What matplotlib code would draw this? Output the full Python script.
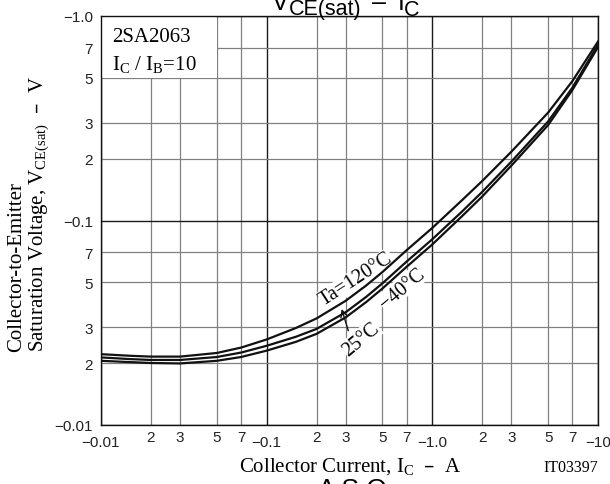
import matplotlib
matplotlib.use('Agg')
import matplotlib.pyplot as plt
from matplotlib.ticker import FixedLocator, FixedFormatter
from matplotlib.patches import Rectangle

plt.rcParams['mathtext.default'] = 'regular'

SERIF = 'Liberation Serif'
SANS = 'Liberation Sans'
W, H = 610, 485

# collector current (A, magnitude) and VCE(sat) (V, magnitude)
IC = [0.01, 0.015, 0.02, 0.03, 0.05, 0.07, 0.1, 0.15, 0.2, 0.3, 0.4, 0.5, 0.7,
      1.0, 1.5, 2.0, 3.0, 5.0, 7.0, 10.0]
VCE_120 = [0.0222, 0.0218, 0.0216, 0.0216, 0.0225, 0.0239, 0.0262, 0.0298, 0.0332,
           0.0405, 0.0482, 0.0560, 0.0716, 0.092, 0.125, 0.156, 0.217, 0.337, 0.480, 0.75]
VCE_25 = [0.0214, 0.0210, 0.0208, 0.0208, 0.0215, 0.0226, 0.0244, 0.0270, 0.0295,
          0.0356, 0.0424, 0.0493, 0.0630, 0.0810, 0.110, 0.138, 0.194, 0.305, 0.446, 0.722]
VCE_M40 = [0.0206, 0.0203, 0.0201, 0.0200, 0.0206, 0.0215, 0.0231, 0.0255, 0.0279,
           0.0336, 0.0400, 0.0465, 0.0594, 0.0764, 0.1044, 0.131, 0.1855, 0.293, 0.434, 0.705]

X_MAJOR = [0.01, 0.1, 1.0, 10.0]
X_MAJOR_LABELS = ['−0.01', '−0.1', '−1.0', '−10']
Y_MAJOR = [0.01, 0.1, 1.0]
Y_MAJOR_LABELS = ['−0.01', '−0.1', '−1.0']
SUBS = [2, 3, 5, 7]
X_MINOR = [s * 10.0 ** e for e in (-2, -1, 0) for s in SUBS]
Y_MINOR = [s * 10.0 ** e for e in (-2, -1) for s in SUBS]

fig = plt.figure(figsize=(W / 100, H / 100), dpi=100)
ax = fig.add_axes([101 / W, 1 - 426 / H, 497 / W, 409 / H])
ax.set_xscale('log')
ax.set_yscale('log')
ax.set_xlim(0.01, 10)
ax.set_ylim(0.01, 1.0)
ax.set_axisbelow(True)

for vals in (VCE_120, VCE_25, VCE_M40):
    ax.plot(IC, vals, color='#111111', lw=1.6, zorder=4, solid_joinstyle='round')

# ticks and grid
ax.xaxis.set_major_locator(FixedLocator(X_MAJOR))
ax.xaxis.set_major_formatter(FixedFormatter(X_MAJOR_LABELS))
ax.xaxis.set_minor_locator(FixedLocator(X_MINOR))
ax.xaxis.set_minor_formatter(FixedFormatter(['2', '3', '5', '7'] * 3))
ax.yaxis.set_major_locator(FixedLocator(Y_MAJOR))
ax.yaxis.set_major_formatter(FixedFormatter(Y_MAJOR_LABELS))
ax.yaxis.set_minor_locator(FixedLocator(Y_MINOR))
ax.yaxis.set_minor_formatter(FixedFormatter(['2', '3', '5', '7'] * 2))

ax.tick_params(which='both', length=0, labelsize=11, colors='#222222')
ax.tick_params(axis='x', which='major', pad=7)
ax.tick_params(axis='x', which='minor', pad=3.4)
ax.tick_params(axis='y', which='both', pad=5.8)
for lab in ax.get_xticklabels(which='both') + ax.get_yticklabels(which='both'):
    lab.set_fontfamily(SANS)

ax.grid(which='major', color='#1a1a1a', lw=1.0)
ax.grid(which='minor', color='#808080', lw=0.9)
for sp in ax.spines.values():
    sp.set_linewidth(1.0)
    sp.set_color('#111111')

# white box behind the part-number text
ax.add_patch(Rectangle((0.01, 0.5), 0.04, 0.5, facecolor='white', edgecolor='none', zorder=1))
ax.text(0.022, 0.938, '2SA2063', transform=ax.transAxes, family=SERIF, fontsize=15,
        va='baseline', ha='left', zorder=5)
ax.text(0.022, 0.870, 'I$_C$ / I$_B$=10', transform=ax.transAxes, family=SERIF, fontsize=15,
        va='baseline', ha='left', zorder=5)

# curve labels
wbox = dict(facecolor='white', edgecolor='none', pad=0.5)
ax.text(0.514, 0.357, 'Ta=120°C', transform=ax.transAxes, family=SERIF, fontsize=14.5,
        rotation=33, ha='center', va='center', rotation_mode='anchor', bbox=wbox, zorder=3)
ax.text(0.5231, 0.2103, '25°C', transform=ax.transAxes, family=SERIF, fontsize=14.5,
        rotation=40, ha='center', va='center', rotation_mode='anchor', bbox=wbox, zorder=3)
ax.text(0.6056, 0.335, '−40°C', transform=ax.transAxes, family=SERIF, fontsize=14.5,
        rotation=40, ha='center', va='center', rotation_mode='anchor', bbox=wbox, zorder=3)
ax.annotate('', xy=(0.4843, 0.2836), xytext=(0.4976, 0.2306),
            xycoords='axes fraction', textcoords='axes fraction',
            arrowprops=dict(arrowstyle='->', color='#111111', lw=1.0,
                            mutation_scale=12, shrinkA=0, shrinkB=0), zorder=5)

# axis labels
fig.text(0.575, 1 - 472 / H, 'Collector Current, I$_C$  –  A', family=SERIF, fontsize=15,
         ha='center', va='baseline')
fig.text(598 / W, 1 - 472 / H, 'IT03397', family=SERIF, fontsize=11.5,
         ha='right', va='baseline')
fig.text(7 / W, 1 - 352 / H, 'Collector-to-Emitter', family=SERIF, fontsize=15,
         rotation=90, ha='left', va='bottom')
fig.text(27 / W, 1 - 352 / H, 'Saturation Voltage, V$_{CE(sat)}$  –  V', family=SERIF,
         fontsize=15, rotation=90, ha='left', va='bottom')

# clipped title above: built piece by piece so the subscripts stay large
renderer = fig.canvas.get_renderer()
title_pieces = [('V', 18, 9.5, 0), ('CE(sat)', 15.5, 15.5, 11),
                ('–', 18, 9.5, 11), ('I', 18, 9.5, 0), ('C', 15.5, 15.5, 0)]
x_px = 272
for s, size, base_py, gap in title_pieces:
    t = fig.text(x_px / W, 1 - base_py / H, s, family=SANS, fontsize=size,
                 ha='left', va='baseline')
    x_px += t.get_window_extent(renderer).width + gap

# next-section heading, clipped at the bottom
fig.text(0.577, 1 - 497 / H, 'A S O', family=SANS, fontsize=19, ha='center', va='baseline')

fig.savefig('out.png', dpi=100)
